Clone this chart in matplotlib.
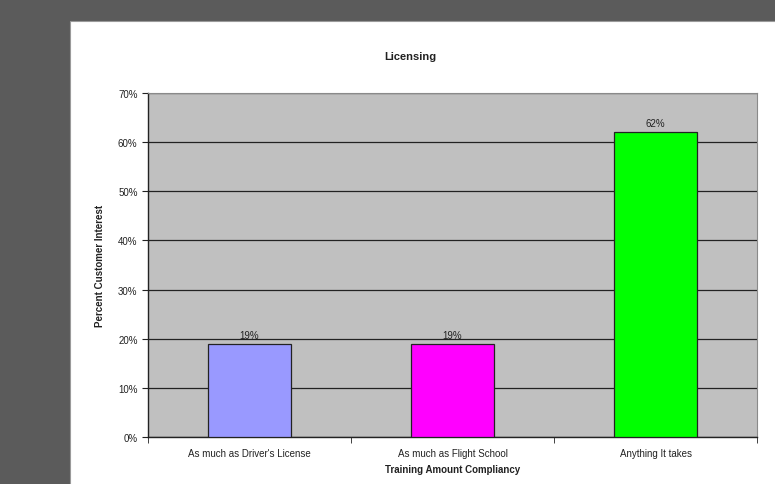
import matplotlib
matplotlib.use("Agg")
from matplotlib import pyplot as plt
from matplotlib.patches import Rectangle
from matplotlib.ticker import FuncFormatter, FixedLocator

# data
categories = ["As much as Driver's License", "As much as Flight School", "Anything It takes"]
interest = [19, 19, 62]
bar_colors = ["#9999ff", "#ff00ff", "#00ff00"]

plt.rcParams['font.family'] = ['Liberation Sans', 'DejaVu Sans']

fig = plt.figure(figsize=(7.75, 4.85), dpi=100)
fig.patch.set_facecolor("#5b5b5b")

# white chart panel, kept behind the axes; runs off the right and bottom edges
fig.patches.append(Rectangle((70 / 775, -0.05), 1.0, 1.05 - 22 / 485,
                             transform=fig.transFigure, facecolor="white",
                             edgecolor="#9a9a9a", linewidth=0.8, zorder=-10))

ax = fig.add_axes([148 / 775, 1 - 438 / 485, (757 - 148) / 775, (438 - 94) / 485])
ax.set_zorder(1)
ax.set_facecolor("#c0c0c0")

x = range(len(categories))
bars = ax.bar(x, interest, width=0.41, color=bar_colors, edgecolor="#222222",
              linewidth=0.9, zorder=3)
for b, v in zip(bars, interest):
    ax.text(b.get_x() + b.get_width() / 2, v + 0.8, f"{v}%", ha="center",
            va="bottom", fontsize=7, color="#222222")

ax.set_xlim(-0.5, 2.5)
ax.set_ylim(0, 70)
ax.set_yticks(range(0, 71, 10))
ax.yaxis.set_major_formatter(FuncFormatter(lambda v, p: f"{int(v)}%"))
ax.yaxis.grid(True, color="#222222", linewidth=0.9, zorder=1)
ax.set_axisbelow(True)

# category labels between boundary ticks
ax.set_xticks(list(x))
ax.set_xticklabels(categories, fontsize=7, color="#222222")
ax.tick_params(axis="x", which="major", length=0, pad=8)
ax.xaxis.set_minor_locator(FixedLocator([-0.5, 0.5, 1.5, 2.5]))
ax.tick_params(axis="x", which="minor", length=4, direction="out", color="#222222")
ax.tick_params(axis="y", length=4, direction="out", labelsize=7,
               labelcolor="#222222", color="#222222")

for side in ["top", "right"]:
    ax.spines[side].set_color("#8a8a8a")
    ax.spines[side].set_linewidth(0.8)
for side in ["left", "bottom"]:
    ax.spines[side].set_color("#222222")
    ax.spines[side].set_linewidth(1.0)

ax.set_xlabel("Training Amount Compliancy", fontsize=7, fontweight="bold",
              color="#222222", labelpad=4)
ax.set_ylabel("Percent Customer Interest", fontsize=7, fontweight="bold",
              color="#222222", labelpad=9)

fig.text(410 / 775, 1 - 57 / 485, "Licensing", ha="center", va="center",
         fontsize=8, fontweight="bold", color="#222222")

fig.savefig("out.png", dpi=100, facecolor=fig.get_facecolor())
